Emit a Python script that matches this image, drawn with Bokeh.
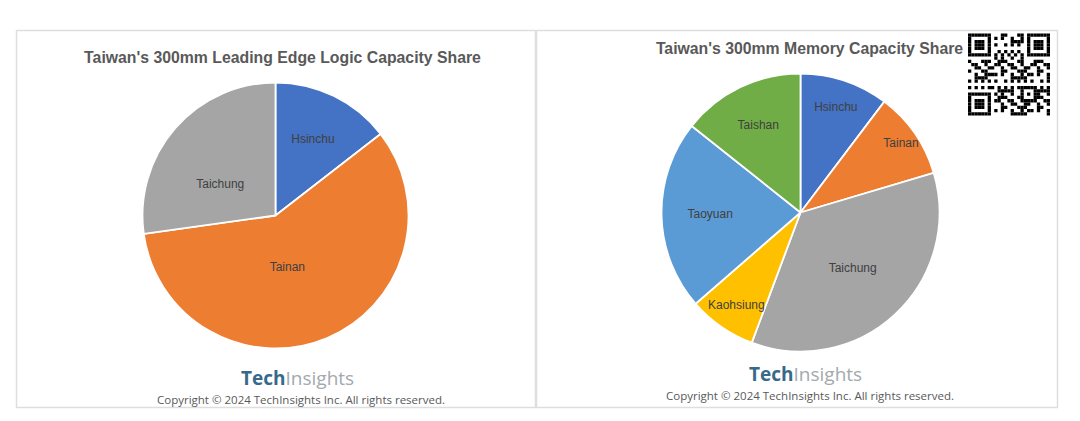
import numpy as np
from bokeh.plotting import figure
from bokeh.models import Range1d, ColumnDataSource
from bokeh.core.properties import value
from bokeh.embed import file_html
from bokeh.resources import INLINE

# ---------------- data ----------------
logic_title = "Taiwan's 300mm Leading Edge Logic Capacity Share"
logic_regions = ["Hsinchu", "Tainan", "Taichung"]
logic_share = [14.5, 58.3, 27.2]

memory_title = "Taiwan's 300mm Memory Capacity Share"
memory_regions = ["Hsinchu", "Tainan", "Taichung", "Kaohsiung", "Taoyuan", "Taishan"]
memory_share = [10.3, 10.1, 35.3, 7.9, 22.1, 14.3]

brand_bold = "Tech"
brand_light = "Insights"
copyright_text = "Copyright \u00a9 2024 TechInsights Inc.  All rights reserved."

# ---------------- styles / layout ----------------
COLORS = {"Hsinchu": "#4472C4", "Tainan": "#ED7D31", "Taichung": "#A5A5A5",
          "Kaohsiung": "#FFC000", "Taoyuan": "#5B9BD5", "Taishan": "#70AD47"}
W, H = 1072, 413


def Y(py):  # page y (from top) -> data y (from bottom)
    return H - py


p = figure(width=W, height=H, output_backend="svg", toolbar_location=None,
           x_range=Range1d(0, W), y_range=Range1d(0, H),
           min_border=0, background_fill_color="white", border_fill_color="white")
p.axis.visible = False
p.grid.visible = False
p.outline_line_color = None

# panels
p.quad(left=[16, 536], right=[535, 1057], top=[Y(30), Y(30)], bottom=[Y(407), Y(407)],
       fill_color="white", line_color="#dedede", line_width=1.5)


def pie(regions, shares, cx, cy, r, label_frac, label_off):
    s = np.array(shares, dtype=float)
    frac = s / s.sum()
    c1 = np.cumsum(frac)
    c0 = c1 - frac
    src = ColumnDataSource(dict(
        start=np.pi / 2 - 2 * np.pi * c0,
        end=np.pi / 2 - 2 * np.pi * c1,
        color=[COLORS[k] for k in regions]))
    p.wedge(x=cx, y=Y(cy), radius=r, start_angle="start", end_angle="end",
            direction="clock", fill_color="color", line_color="white",
            line_width=1.8, source=src)
    mid = np.radians(360 * (c0 + c1) / 2 + np.array(label_off))
    lx = cx + np.array(label_frac) * r * np.sin(mid)
    ly = Y(cy) + np.array(label_frac) * r * np.cos(mid)
    p.text(x=lx, y=ly, text=regions, text_align="center", text_baseline="middle",
           text_font=value("Liberation Sans"), text_font_size="12px",
           text_color="#404040")


pie(logic_regions, logic_share, 275, 215, 133, [0.64, 0.40, 0.48], [0, 10, -11])
pie(memory_regions, memory_share, 800, 212, 139,
    [0.80, 0.88, 0.55, 0.81, 0.65, 0.70], [0, 0, 0, 0, 0, 0])

# titles
for t, x, y in [(logic_title, 282, 57), (memory_title, 809, 48)]:
    p.text(x=[x], y=[Y(y)], text=[t], text_align="center", text_baseline="middle",
           text_font=value("Liberation Sans"), text_font_size="15.8px",
           text_font_style="bold", text_color="#595959")

# brand logos and copyright
for jx, ly, cx, cyy in [(285, 377, 302, 399), (793, 373, 811, 395)]:
    p.text(x=[jx], y=[Y(ly)], text=[brand_bold], text_align="right",
           text_baseline="middle", text_font=value("Open Sans"),
           text_font_size="19px", text_font_style="bold", text_color="#36698a")
    p.text(x=[jx], y=[Y(ly)], text=[brand_light], text_align="left",
           text_baseline="middle", text_font=value("Open Sans"),
           text_font_size="19px", text_color="#a3a9ad")
    p.text(x=[cx], y=[Y(cyy)], text=[copyright_text], text_align="center",
           text_baseline="middle", text_font=value("Open Sans"),
           text_font_size="11.5px", text_color="#595959")

# QR-like decoration (top-right)
N = 25
m = np.zeros((N, N), dtype=bool)
for i in range(N):
    for j in range(N):
        m[i, j] = ((i * i * 7 + j * 13 + i * j * 5 + 3) % 11) < 5


def finder(r0, c0):
    for i in range(-1, 8):
        for j in range(-1, 8):
            ii, jj = r0 + i, c0 + j
            if 0 <= ii < N and 0 <= jj < N:
                on = (0 <= i <= 6 and 0 <= j <= 6) and (
                    i in (0, 6) or j in (0, 6) or (2 <= i <= 4 and 2 <= j <= 4))
                m[ii, jj] = on


finder(0, 0); finder(0, N - 7); finder(N - 7, 0)
for k in range(8, N - 8):
    m[6, k] = k % 2 == 0
    m[k, 6] = k % 2 == 0
for i in range(-2, 3):
    for j in range(-2, 3):
        m[18 + i, 18 + j] = max(abs(i), abs(j)) != 1
qx0, qy0, qs = 967.5, 33, 82 / N
rr, cc = np.nonzero(m)
p.quad(left=qx0 + cc * qs, right=qx0 + (cc + 1) * qs,
       top=Y(qy0 + rr * qs), bottom=Y(qy0 + (rr + 1) * qs),
       fill_color="black", line_color=None)

open("out.html", "w").write(file_html(p, INLINE))
